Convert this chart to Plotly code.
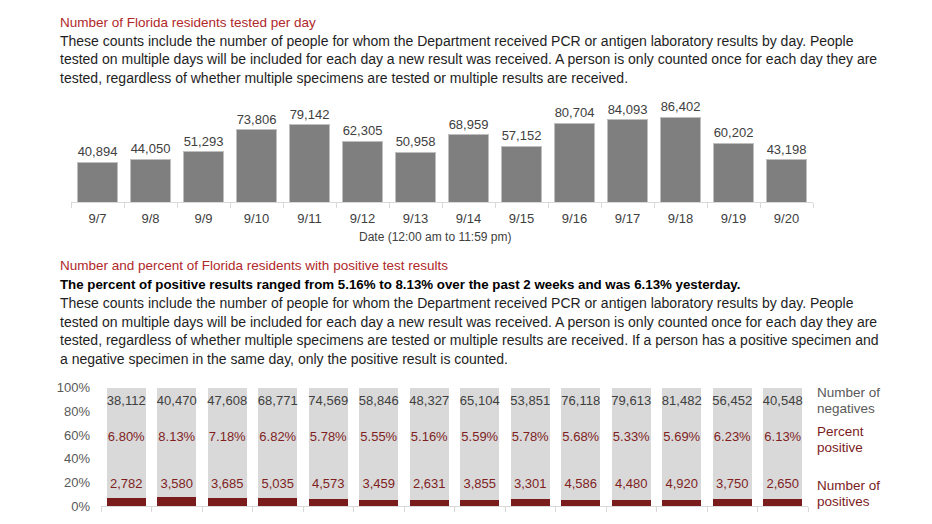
import plotly.graph_objects as go

# ---------------- data ----------------
dates = ["9/7", "9/8", "9/9", "9/10", "9/11", "9/12", "9/13",
         "9/14", "9/15", "9/16", "9/17", "9/18", "9/19", "9/20"]
tested = [40894, 44050, 51293, 73806, 79142, 62305, 50958,
          68959, 57152, 80704, 84093, 86402, 60202, 43198]
negatives = [38112, 40470, 47608, 68771, 74569, 58846, 48327,
             65104, 53851, 76118, 79613, 81482, 56452, 40548]
positives = [2782, 3580, 3685, 5035, 4573, 3459, 2631,
             3855, 3301, 4586, 4480, 4920, 3750, 2650]
pct_ticks = [0, 20, 40, 60, 80, 100]

pct_pos = [p / (p + n) * 100 for p, n in zip(positives, negatives)]
pct_neg = [100 - v for v in pct_pos]

# ---------------- styling ----------------
W, H = 932, 524
FONT = "Liberation Sans, Arial"
RED_TITLE = "#B0282A"
DARK_RED = "#7B1C1C"
LABEL_RED = "#7F1F1F"
GRAY_BAR = "#7F7F7F"
LIGHT = "#D9D9D9"
TXT = "#1E1E1E"
LBL = "#404040"


def fx(px):
    return px / W


def fy(py):
    return 1 - py / H


fig = go.Figure()

# top chart
fig.add_trace(go.Bar(
    x=dates, y=tested, xaxis="x", yaxis="y",
    marker=dict(color=GRAY_BAR, line=dict(color="#BFBFBF", width=1)),
    text=[f"{v:,}" for v in tested], textposition="outside",
    textfont=dict(size=13, color=LBL, family=FONT), cliponaxis=False,
))

# bottom chart: 100% stacked
fig.add_trace(go.Bar(
    x=dates, y=pct_pos, xaxis="x2", yaxis="y2",
    marker=dict(color=DARK_RED, line=dict(width=0)),
))
fig.add_trace(go.Bar(
    x=dates, y=pct_neg, xaxis="x2", yaxis="y2",
    marker=dict(color=LIGHT, line=dict(width=0)),
))

NEG_Y, PCT_Y, POS_Y = 88, 58, 18
n = len(dates)
fig.add_trace(go.Scatter(
    x=dates, y=[NEG_Y] * n, xaxis="x2", yaxis="y2", mode="text",
    text=[f"{v:,}" for v in negatives],
    textfont=dict(size=13, color=LBL, family=FONT), cliponaxis=False,
))
fig.add_trace(go.Scatter(
    x=dates, y=[PCT_Y] * n, xaxis="x2", yaxis="y2", mode="text",
    text=[f"{v:.2f}%" for v in pct_pos],
    textfont=dict(size=13, color=LABEL_RED, family=FONT), cliponaxis=False,
))
fig.add_trace(go.Scatter(
    x=dates, y=[POS_Y] * n, xaxis="x2", yaxis="y2", mode="text",
    text=[f"{v:,}" for v in positives],
    textfont=dict(size=13, color=LABEL_RED, family=FONT), cliponaxis=False,
))

axis_common = dict(
    type="category", showline=True, linecolor=LIGHT, linewidth=1,
    ticks="outside", tickson="boundaries", ticklen=5, tickcolor=LIGHT,
    showgrid=False, zeroline=False, fixedrange=True,
    range=[-0.5, n - 0.5],
)

annotations = []


def line(text, y, size=13, color=TXT, x=58, bold=False):
    if bold:
        text = f"<b>{text}</b>"
    annotations.append(dict(
        text=text, x=fx(x), y=fy(y), xref="paper", yref="paper",
        xanchor="left", yanchor="middle", showarrow=False,
        font=dict(size=size, color=color, family=FONT), align="left",
    ))


line("Number of Florida residents tested per day", 16, size=13.5, color=RED_TITLE)
line("These counts include the number of people for whom the Department received PCR or antigen laboratory results by day. People", 35, size=14)
line("tested on multiple days will be included for each day a new result was received. A person is only counted once for each day they are", 54, size=14)
line("tested, regardless of whether multiple specimens are tested or multiple results are received.", 73, size=14)

annotations.append(dict(
    text="Date (12:00 am to 11:59 pm)", x=fx(435), y=fy(237), xref="paper", yref="paper",
    xanchor="center", yanchor="middle", showarrow=False,
    font=dict(size=12, color=LBL, family=FONT),
))

line("Number and percent of Florida residents with positive test results", 266, size=13.5, color=RED_TITLE)
line("The percent of positive results ranged from 5.16% to 8.13% over the past 2 weeks and was 6.13% yesterday.", 286, size=13.3, color="#000000", bold=True)
line("These counts include the number of people for whom the Department received PCR or antigen laboratory results by day. People", 305, size=14)
line("tested on multiple days will be included for each day a new result was received. A person is only counted once for each day they are", 324, size=14)
line("tested, regardless of whether multiple specimens are tested or multiple results are received. If a person has a positive specimen and", 343, size=14)
line("a negative specimen in the same day, only the positive result is counted.", 362, size=14)

line("Number of", 397, size=13.5, color="#595959", x=815)
line("negatives", 413, size=13.5, color="#595959", x=815)
line("Percent", 437, size=13.5, color=DARK_RED, x=815)
line("positive", 453, size=13.5, color=DARK_RED, x=815)
line("Number of", 493, size=13.5, color=DARK_RED, x=815)
line("positives", 509, size=13.5, color=DARK_RED, x=815)

fig.update_layout(
    width=W, height=H, autosize=False,
    margin=dict(l=0, r=0, t=0, b=0),
    paper_bgcolor="white", plot_bgcolor="white",
    showlegend=False, barmode="stack", bargap=0.23,
    font=dict(family=FONT, size=13, color=LBL),
    xaxis=dict(domain=[fx(71), fx(813)], anchor="y", ticklabelstandoff=4,
               tickfont=dict(size=13, color=LBL, family=FONT), **axis_common),
    yaxis=dict(domain=[fy(201), fy(100)], range=[0, 100000], visible=False,
               anchor="x", fixedrange=True),
    xaxis2=dict(domain=[fx(101), fx(808)], anchor="y2", showticklabels=False,
                **axis_common),
    yaxis2=dict(domain=[fy(514), fy(392)], range=[0, 100], anchor="x2",
                showgrid=False, zeroline=False, showline=False,
                tickvals=pct_ticks, ticktext=[f"{v}%" for v in pct_ticks],
                ticks="", ticklen=0,
                tickfont=dict(size=13, color="#595959", family=FONT),
                ticklabelstandoff=10, fixedrange=True),
    annotations=annotations,
)

fig.write_html(
    "out.html",
    config={"displayModeBar": False},
    post_script="document.body.style.margin='0';document.body.style.overflow='hidden';",
)
